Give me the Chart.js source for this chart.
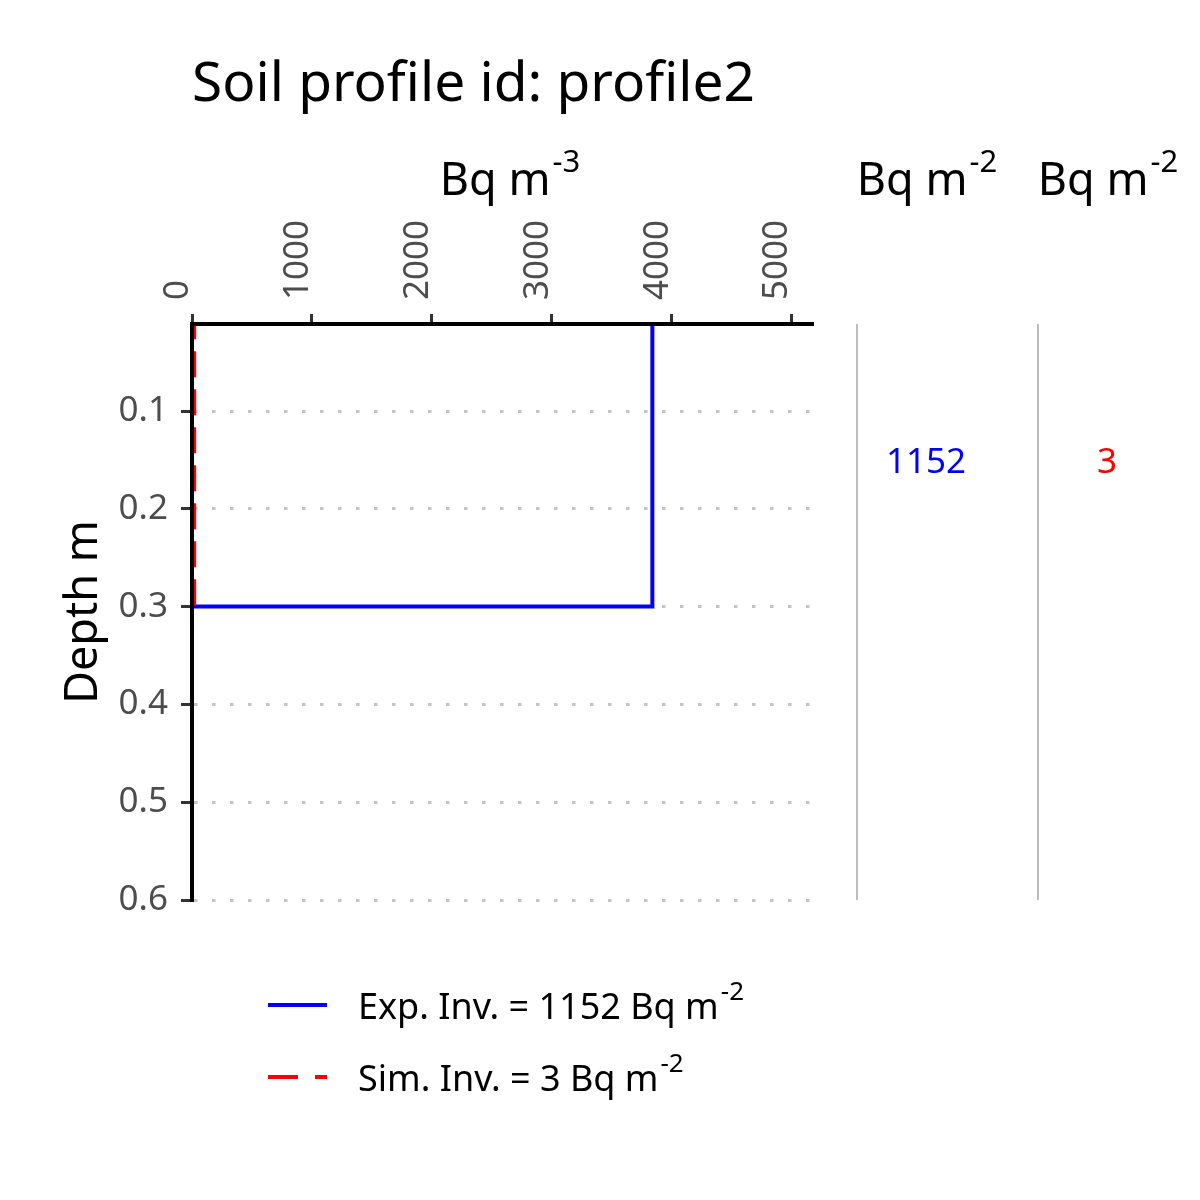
<!DOCTYPE html>
<html><head><meta charset="utf-8">
<script src="https://cdn.jsdelivr.net/npm/chart.js@4/dist/chart.umd.min.js"></script>
<style>html,body{margin:0;padding:0;background:#fff}canvas{display:block}</style>
</head><body>
<canvas id="c" width="1200" height="1200"></canvas>
<script>
// ---- data ----
const depths = [0, 0.3, 0.3, 0.6];
const expConc = [3840, 3840, 0, 0];
const simConc = [18, 18, 0, 0];
const xTickValues = [0, 1000, 2000, 3000, 4000, 5000];
const yTickValues = [0.1, 0.2, 0.3, 0.4, 0.5, 0.6];
const inventoryValues = ['1152', '3'];
const inventoryColors = ['#0000ff', '#ff0000'];
const inventoryDepth = 0.15;
const legendTexts = ['Exp. Inv. = 1152 Bq m', 'Sim. Inv. = 3 Bq m'];
const titleText = 'Soil profile id: profile2';

const FONT = '"Noto Sans", "Open Sans", sans-serif';

function drawSup(ctx, base, sup, x, y, size, supSize, rise, align, color) {
  ctx.save();
  ctx.fillStyle = color;
  ctx.textBaseline = 'alphabetic';
  ctx.textAlign = 'left';
  ctx.font = size + 'px ' + FONT;
  const w1 = ctx.measureText(base).width;
  ctx.font = supSize + 'px ' + FONT;
  const w2 = ctx.measureText(sup).width;
  const total = w1 + w2;
  let x0 = x;
  if (align === 'center') x0 = x - total / 2;
  ctx.font = size + 'px ' + FONT;
  ctx.fillText(base, x0, y);
  ctx.font = supSize + 'px ' + FONT;
  ctx.fillText(sup, x0 + w1 + 2, y - rise);
  ctx.restore();
}

const decor = {
  id: 'decor',
  afterDraw(chart) {
    const ctx = chart.ctx;
    const ca = chart.chartArea;
    const ys = chart.scales.y;
    ctx.save();
    // title
    ctx.fillStyle = '#000';
    ctx.font = '55px ' + FONT;
    ctx.textAlign = 'left';
    ctx.textBaseline = 'alphabetic';
    ctx.fillText(titleText, 192, 101);
    // x axis title
    drawSup(ctx, 'Bq m', '-3', 509, 195, 45, 31, 23, 'center', '#000');
    // y axis title
    ctx.save();
    ctx.translate(97, (ca.top + ca.bottom) / 2);
    ctx.rotate(-Math.PI / 2);
    ctx.font = '45px ' + FONT;
    ctx.textAlign = 'center';
    ctx.textBaseline = 'alphabetic';
    ctx.fillStyle = '#000';
    ctx.fillText('Depth m', 0, 0);
    ctx.restore();
    // right panels
    const panelLeft = [857, 1038];
    const panelCenter = [926, 1107];
    for (let i = 0; i < 2; i++) {
      ctx.strokeStyle = '#bebebe';
      ctx.lineWidth = 2;
      ctx.beginPath();
      ctx.moveTo(panelLeft[i], ca.top);
      ctx.lineTo(panelLeft[i], ca.bottom);
      ctx.stroke();
      drawSup(ctx, 'Bq m', '-2', panelCenter[i], 195, 45, 31, 23, 'center', '#000');
      ctx.font = '35px ' + FONT;
      ctx.textAlign = 'center';
      ctx.textBaseline = 'alphabetic';
      ctx.fillStyle = inventoryColors[i];
      ctx.fillText(inventoryValues[i], panelCenter[i], ys.getPixelForValue(inventoryDepth) + 13);
    }
    // legend
    const rows = [1005, 1077];
    for (let i = 0; i < 2; i++) {
      ctx.strokeStyle = inventoryColors[i];
      ctx.lineWidth = 4;
      ctx.setLineDash(i === 0 ? [] : [30, 17]);
      ctx.beginPath();
      ctx.moveTo(268, rows[i]);
      ctx.lineTo(327, rows[i]);
      ctx.stroke();
      ctx.setLineDash([]);
      drawSup(ctx, legendTexts[i], '-2', 358, rows[i] + 14, 36, 26, 19, 'left', '#000');
    }
    ctx.restore();
  }
};

new Chart(document.getElementById('c'), {
  type: 'scatter',
  data: {
    datasets: [
      {
        label: 'Sim',
        data: depths.map((d, i) => ({x: simConc[i], y: d})),
        showLine: true,
        borderColor: '#ff0000',
        borderWidth: 4,
        borderDash: [26, 12],
        pointRadius: 0,
        fill: false,
        tension: 0,
        order: 0
      },
      {
        label: 'Exp',
        data: depths.map((d, i) => ({x: expConc[i], y: d})),
        showLine: true,
        borderColor: '#0000ff',
        borderWidth: 4,
        pointRadius: 0,
        fill: false,
        tension: 0,
        order: 1
      }
    ]
  },
  options: {
    responsive: false,
    animation: false,
    devicePixelRatio: 1,
    layout: {padding: {left: 0, top: 0, right: 387, bottom: 300}},
    plugins: {legend: {display: false}, tooltip: {enabled: false}, title: {display: false}},
    scales: {
      x: {
        type: 'linear',
        position: 'top',
        min: 0,
        max: 5180,
        afterBuildTicks: s => { s.ticks = xTickValues.map(v => ({value: v})); },
        afterFit: s => { s.height = 324; },
        ticks: {
          minRotation: 90, maxRotation: 90,
          font: {family: FONT, size: 35},
          color: '#4d4d4d',
          padding: 14,
          labelOffset: 28,
          z: 1,
          callback: v => String(v)
        },
        grid: {drawOnChartArea: false, drawTicks: true, tickLength: 10, tickColor: '#333333', tickWidth: 3},
        border: {display: true, color: '#000', width: 4, z: 2}
      },
      y: {
        type: 'linear',
        reverse: true,
        min: 0.011,
        max: 0.6,
        afterBuildTicks: s => { s.ticks = yTickValues.map(v => ({value: v})); },
        afterFit: s => { s.width = 192; },
        ticks: {
          font: {family: FONT, size: 35},
          color: '#4d4d4d',
          padding: 13,
          z: 1,
          callback: v => Number(v).toFixed(1)
        },
        grid: {drawOnChartArea: true, color: '#c4c4c4', lineWidth: 3, drawTicks: true, tickLength: 11, tickColor: '#333333', tickWidth: 3},
        border: {display: true, color: '#000', width: 4, dash: [3.5, 14.5], z: 2}
      }
    }
  },
  plugins: [decor]
});
</script>
</body></html>
